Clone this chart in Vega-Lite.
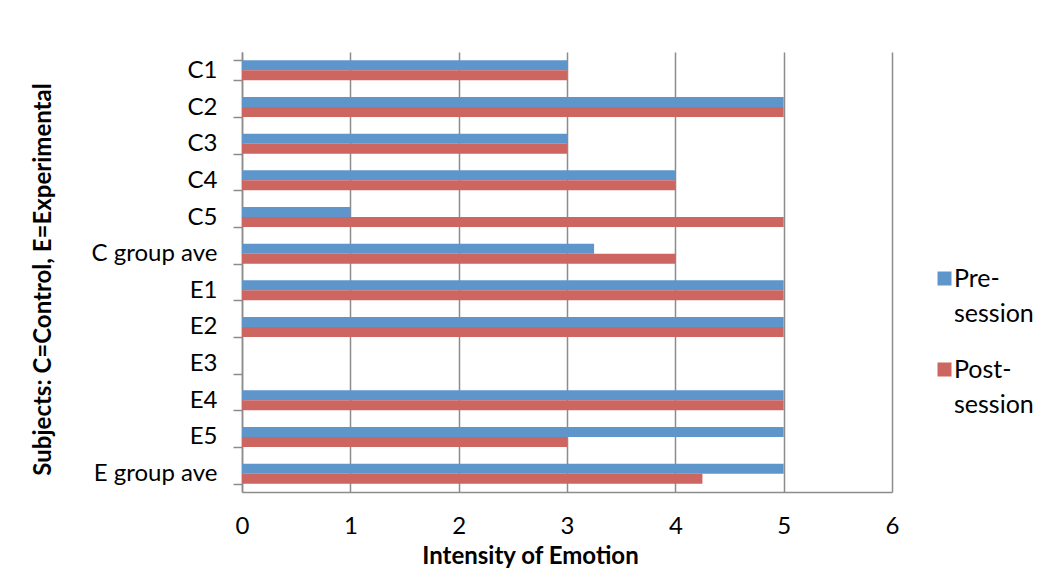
{
  "$schema": "https://vega.github.io/schema/vega-lite/v6.json",
  "width": 650,
  "height": 440,
  "autosize": {"type": "none"},
  "padding": {"left": 242, "top": 52, "right": 156, "bottom": 88},
  "background": "white",
  "data": {
    "values": [
      {"subject": "C1", "session": "Pre-session", "value": 3},
      {"subject": "C1", "session": "Post-session", "value": 3},
      {"subject": "C2", "session": "Pre-session", "value": 5},
      {"subject": "C2", "session": "Post-session", "value": 5},
      {"subject": "C3", "session": "Pre-session", "value": 3},
      {"subject": "C3", "session": "Post-session", "value": 3},
      {"subject": "C4", "session": "Pre-session", "value": 4},
      {"subject": "C4", "session": "Post-session", "value": 4},
      {"subject": "C5", "session": "Pre-session", "value": 1},
      {"subject": "C5", "session": "Post-session", "value": 5},
      {"subject": "C group ave", "session": "Pre-session", "value": 3.25},
      {"subject": "C group ave", "session": "Post-session", "value": 4},
      {"subject": "E1", "session": "Pre-session", "value": 5},
      {"subject": "E1", "session": "Post-session", "value": 5},
      {"subject": "E2", "session": "Pre-session", "value": 5},
      {"subject": "E2", "session": "Post-session", "value": 5},
      {"subject": "E4", "session": "Pre-session", "value": 5},
      {"subject": "E4", "session": "Post-session", "value": 5},
      {"subject": "E5", "session": "Pre-session", "value": 5},
      {"subject": "E5", "session": "Post-session", "value": 3},
      {"subject": "E group ave", "session": "Pre-session", "value": 5},
      {"subject": "E group ave", "session": "Post-session", "value": 4.25}
    ]
  },
  "mark": {"type": "bar", "strokeWidth": 1},
  "encoding": {
    "y": {
      "field": "subject",
      "type": "nominal",
      "scale": {
        "domain": ["C1", "C2", "C3", "C4", "C5", "C group ave", "E1", "E2", "E3", "E4", "E5", "E group ave"],
        "paddingInner": 0.4545,
        "paddingOuter": 0.2273
      },
      "axis": {
        "title": "Subjects: C=Control, E=Experimental",
        "tickBand": "extent",
        "tickSize": 9,
        "tickColor": "#8c8c8c",
        "tickWidth": 1.5,
        "domainColor": "#8c8c8c",
        "domainWidth": 1.5,
        "labelPadding": 16,
        "labelFont": "Lato",
        "labelFontSize": 24,
        "labelColor": "#000000",
        "titleFont": "Lato",
        "titleFontSize": 24,
        "titleFontWeight": "bold",
        "titleColor": "#000000",
        "titlePadding": 36,
        "titleY": 227
      }
    },
    "yOffset": {
      "field": "session",
      "type": "nominal",
      "scale": {"domain": ["Pre-session", "Post-session"], "paddingInner": 0, "paddingOuter": 0}
    },
    "x": {
      "field": "value",
      "type": "quantitative",
      "scale": {"domain": [0, 6], "nice": false},
      "axis": {
        "title": "Intensity of Emotion",
        "values": [0, 1, 2, 3, 4, 5, 6],
        "ticks": false,
        "grid": true,
        "gridColor": "#8c8c8c",
        "gridWidth": 1.5,
        "domainColor": "#8c8c8c",
        "domainWidth": 1.5,
        "labelFlush": false,
        "labelPadding": 22,
        "labelFont": "Lato",
        "labelFontSize": 24,
        "labelColor": "#000000",
        "titleFont": "Lato",
        "titleFontSize": 24,
        "titleFontWeight": "bold",
        "titleColor": "#000000",
        "titleX": 288,
        "titlePadding": 6
      }
    },
    "color": {
      "field": "session",
      "type": "nominal",
      "scale": {"domain": ["Pre-session", "Post-session"], "range": ["#5e96cc", "#cd6560"]},
      "legend": {
        "title": null,
        "orient": "none",
        "legendX": 690,
        "legendY": 214,
        "symbolType": "square",
        "symbolSize": 196,
        "symbolStrokeWidth": 0,
        "labelFont": "Lato",
        "labelFontSize": 25,
        "labelColor": "#000000",
        "labelBaseline": "middle",
        "labelExpr": "datum.label == 'Pre-session' ? ['Pre-', 'session'] : ['Post-', 'session']",
        "rowPadding": 30,
        "labelOffset": -3,
        "encode": {"labels": {"update": {"lineHeight": {"value": 35}}}}
      }
    }
  },
  "config": {
    "view": {"stroke": null}
  }
}
